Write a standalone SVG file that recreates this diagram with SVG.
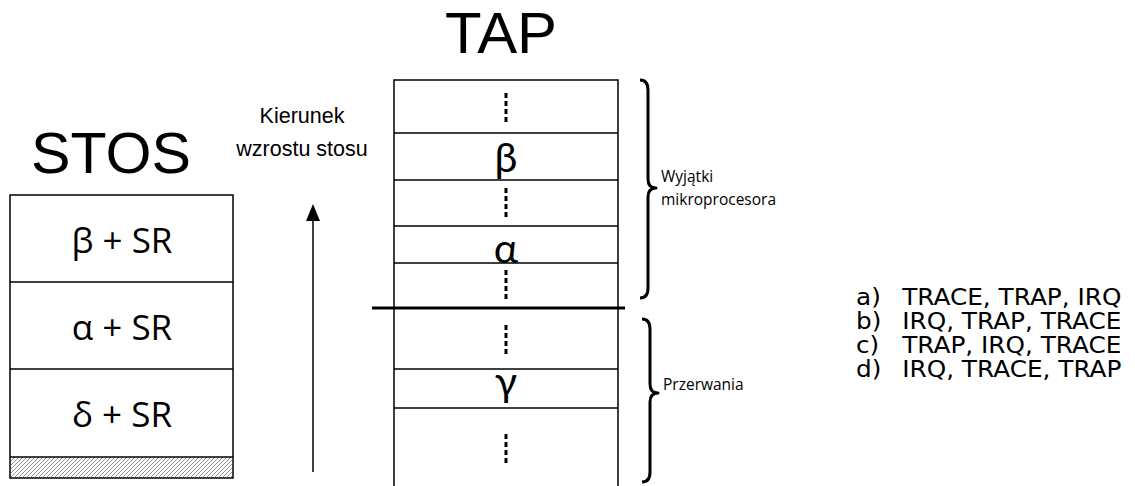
<svg xmlns="http://www.w3.org/2000/svg" width="1135" height="486" viewBox="0 0 1135 486">
<defs>
<pattern id="hatch" patternUnits="userSpaceOnUse" width="4" height="4">
<path d="M-1,1 L1,-1 M0,4 L4,0 M3,5 L5,3" stroke="#777" stroke-width="0.8"/>
</pattern>
</defs>
<style>
.box{fill:#fff;stroke:#000;stroke-width:1.5}
.ln{stroke:#000;stroke-width:1.5}
.dots{stroke:#000;stroke-width:3;stroke-dasharray:5,3}
.title{font-family:"Liberation Sans",Arial,sans-serif;font-size:58px;fill:#000}
.lbl{font-family:"Liberation Sans",Arial,sans-serif;font-size:21.5px;fill:#000}
.cal{font-family:"Open Sans",Lato,sans-serif;fill:#000}
.opt{font-family:"DejaVu Sans","Open Sans",sans-serif;font-size:22.5px;fill:#000}
.greek{font-family:Lato,"Open Sans",sans-serif;fill:#000}
.brace{fill:none;stroke:#000;stroke-width:3;stroke-linejoin:round}
</style>
<rect width="1135" height="486" fill="#fff"/>

<g id="stos">
<text class="title" x="111" y="173" text-anchor="middle" textLength="160" lengthAdjust="spacingAndGlyphs">STOS</text>
<rect class="box" x="10" y="195" width="223" height="283"/>
<rect x="10.75" y="457" width="221.5" height="20.25" fill="url(#hatch)"/>
<line class="ln" x1="10" y1="282" x2="233" y2="282"/>
<line class="ln" x1="10" y1="369" x2="233" y2="369"/>
<line class="ln" x1="10" y1="457" x2="233" y2="457"/>
<text class="cal" x="122" y="253" font-size="35" text-anchor="middle">β + SR</text>
<text class="cal" x="122" y="340" font-size="35" text-anchor="middle">α + SR</text>
<text class="cal" x="122" y="427" font-size="35" text-anchor="middle">δ + SR</text>
</g>

<g id="direction">
<text class="lbl" x="302" y="123" text-anchor="middle">Kierunek</text>
<text class="lbl" x="302" y="156" text-anchor="middle">wzrostu stosu</text>
</g>

<g id="connectors">
<line class="ln" x1="313" y1="472" x2="313" y2="218"/>
<path d="M313,204 L306,221 L320,221 Z" fill="#000"/>
</g>

<g id="tap">
<text class="title" x="501" y="53" text-anchor="middle" textLength="112" lengthAdjust="spacingAndGlyphs">TAP</text>
<path class="ln" fill="none" d="M394,490 L394,80 L618,80 L618,490"/>
<line class="ln" x1="394" y1="133" x2="618" y2="133"/>
<line class="ln" x1="394" y1="180" x2="618" y2="180"/>
<line class="ln" x1="394" y1="226" x2="618" y2="226"/>
<line class="ln" x1="394" y1="263" x2="618" y2="263"/>
<line class="ln" x1="394" y1="369" x2="618" y2="369"/>
<line class="ln" x1="394" y1="408" x2="618" y2="408"/>
<line x1="372" y1="308" x2="625" y2="308" stroke="#000" stroke-width="3"/>
<line class="dots" x1="506" y1="93" x2="506" y2="122"/>
<line class="dots" x1="506" y1="188" x2="506" y2="217"/>
<line class="dots" x1="506" y1="270" x2="506" y2="299"/>
<line class="dots" x1="506" y1="325" x2="506" y2="354"/>
<line class="dots" x1="506" y1="434" x2="506" y2="463"/>
<text class="greek" x="506" y="172" font-size="41" text-anchor="middle">β</text>
<text class="greek" x="506" y="263" font-size="41" text-anchor="middle">α</text>
<text class="greek" x="506" y="396" font-size="41" text-anchor="middle">γ</text>
</g>

<g id="exceptions">
<path class="brace" d="M640,80 Q648,80 648,90 L648,179 Q648,188 656,188 Q648,188 648,197 L648,288 Q648,298 640,298"/>
<text class="cal" x="661" y="182" font-size="15.5">Wyjątki</text>
<text class="cal" x="661" y="205" font-size="15.5">mikroprocesora</text>
</g>

<g id="interrupts">
<path class="brace" d="M642,319 Q650,319 650,329 L650,384 Q650,393 658,393 Q650,393 650,402 L650,472 Q650,482 642,482"/>
<text class="cal" x="663" y="390" font-size="15.5">Przerwania</text>
</g>

<g id="answers" transform="matrix(1.1,0,0,1,-85.6,0)">
<text class="opt" x="856" y="305">a)</text><text class="opt" x="898" y="305">TRACE, TRAP, IRQ</text>
<text class="opt" x="856" y="329">b)</text><text class="opt" x="898" y="329">IRQ, TRAP, TRACE</text>
<text class="opt" x="856" y="353">c)</text><text class="opt" x="898" y="353">TRAP, IRQ, TRACE</text>
<text class="opt" x="856" y="377">d)</text><text class="opt" x="898" y="377">IRQ, TRACE, TRAP</text>
</g>
</svg>
